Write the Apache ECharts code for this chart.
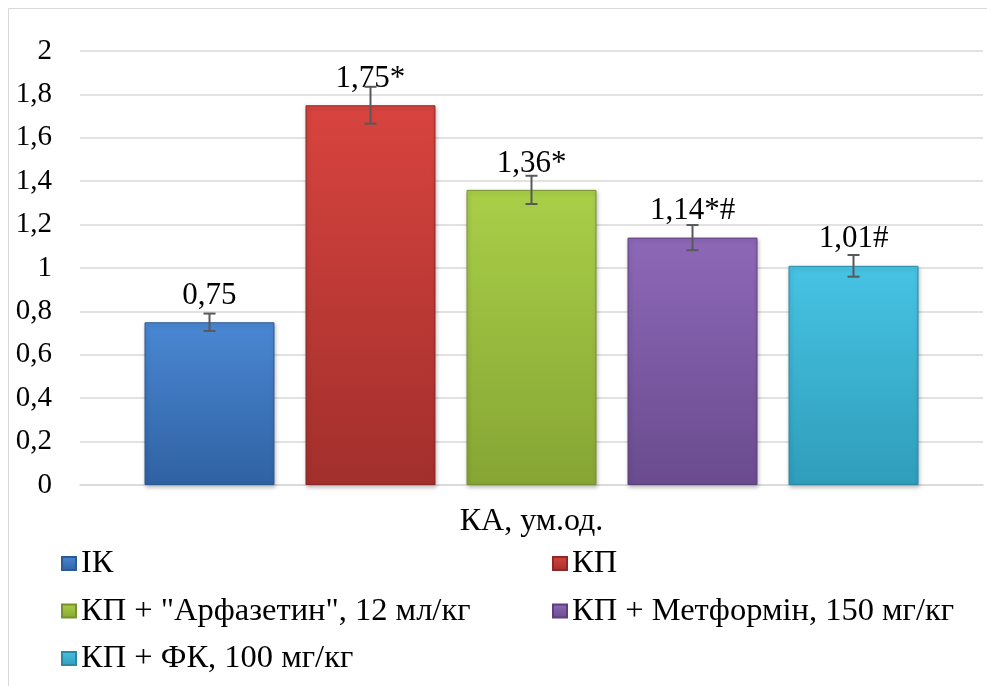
<!DOCTYPE html>
<html>
<head>
<meta charset="utf-8">
<script src="https://cdn.jsdelivr.net/npm/echarts@6/dist/echarts.min.js"></script>
<style>html,body{margin:0;padding:0;background:#fff}#c{width:987px;height:686px}</style>
</head>
<body>
<div id="c"></div>
<script>
const categories = ['КА, ум.од.'];
const seriesNames = ['ІК', 'КП', 'КП + "Арфазетин", 12 мл/кг', 'КП + Метформін, 150 мг/кг', 'КП + ФК, 100 мг/кг'];
const values = [0.75, 1.75, 1.36, 1.14, 1.01];
const errors = [0.04, 0.085, 0.065, 0.058, 0.05];
const valueLabels = ['0,75', '1,75*', '1,36*', '1,14*#', '1,01#'];
const yTicks = [0, 0.2, 0.4, 0.6, 0.8, 1, 1.2, 1.4, 1.6, 1.8, 2];

const colorsTop = ['#4a87d3', '#d8443f', '#a9cf48', '#8d68b8', '#47c3e3'];
const colorsBottom = ['#2f62a3', '#a22f2c', '#86a534', '#6a4b8e', '#2f9dbb'];
const borders = ['#2d5a94', '#8e2826', '#76922c', '#5c407c', '#2a8aa5'];

const BAR_W = 130, GAP = 31;
const font = '"Liberation Serif", "Times New Roman", serif';

const chart = echarts.init(document.getElementById('c'));

const barSeries = seriesNames.map((name, i) => ({
  name: name,
  type: 'bar',
  barWidth: BAR_W,
  barGap: (GAP / BAR_W * 100).toFixed(2) + '%',
  data: [values[i]],
  itemStyle: {
    color: new echarts.graphic.LinearGradient(0, 0, 0, 1, [
      {offset: 0, color: colorsTop[i]},
      {offset: 1, color: colorsBottom[i]}
    ]),
    borderColor: borders[i],
    borderWidth: 1,
    shadowColor: 'rgba(0,0,0,0.25)',
    shadowBlur: 4,
    shadowOffsetX: 1,
    shadowOffsetY: 2
  },
  label: {
    show: true,
    position: 'top',
    distance: 11,
    formatter: () => valueLabels[i],
    fontFamily: font,
    fontSize: 31,
    color: '#000'
  }
}));

const errSeries = {
  type: 'custom',
  name: 'err',
  silent: true,
  z: 10,
  data: values.map((v, i) => [0, v, errors[i], i]),
  renderItem: function (params, api) {
    const v = api.value(1), e = api.value(2), idx = api.value(3);
    const top = api.coord([0, v + e]);
    const bot = api.coord([0, v - e]);
    const n = values.length;
    const x = top[0] + (idx - (n - 1) / 2) * (BAR_W + GAP);
    const hw = 6;
    const st = {stroke: '#595959', lineWidth: 2};
    return {
      type: 'group',
      children: [
        {type: 'line', shape: {x1: x, y1: top[1], x2: x, y2: bot[1]}, style: st},
        {type: 'line', shape: {x1: x - hw, y1: top[1], x2: x + hw, y2: top[1]}, style: st},
        {type: 'line', shape: {x1: x - hw, y1: bot[1], x2: x + hw, y2: bot[1]}, style: st}
      ]
    };
  }
};

const legendCommon = {
  orient: 'vertical',
  icon: 'rect',
  itemWidth: 14,
  itemHeight: 13,
  itemGap: 14.5,
  padding: 0,
  textStyle: {fontFamily: font, fontSize: 32.5, color: '#000', lineHeight: 32.5},
  selectedMode: false
};

chart.setOption({
  animation: false,
  backgroundColor: '#fff',
  graphic: [{
    type: 'rect',
    shape: {x: 8.5, y: 8.5, width: 990, height: 700},
    style: {fill: 'none', stroke: '#d9d9d9', lineWidth: 1},
    silent: true
  }],
  grid: {left: 80, right: 4, top: 51, bottom: 201},
  legend: [
    Object.assign({}, legendCommon, {left: 61, top: 547, data: [seriesNames[0], seriesNames[2], seriesNames[4]]}),
    Object.assign({}, legendCommon, {left: 552, top: 547, data: [seriesNames[1], seriesNames[3]]})
  ],
  xAxis: {
    type: 'category',
    data: categories,
    axisTick: {show: false},
    axisLine: {lineStyle: {color: '#d9d9d9', width: 1.5}},
    axisLabel: {fontFamily: font, fontSize: 32, color: '#000', margin: 21}
  },
  yAxis: {
    type: 'value',
    min: 0,
    max: 2,
    interval: 0.2,
    axisLine: {show: false},
    axisTick: {show: false},
    splitLine: {lineStyle: {color: '#d9d9d9', width: 1.5}},
    axisLabel: {
      fontFamily: font, fontSize: 29, color: '#000', margin: 28,
      formatter: v => {
        const t = yTicks.find(x => Math.abs(x - v) < 1e-9);
        return String(t !== undefined ? t : v).replace('.', ',');
      }
    }
  },
  series: barSeries.concat([errSeries])
});
</script>
</body>
</html>
